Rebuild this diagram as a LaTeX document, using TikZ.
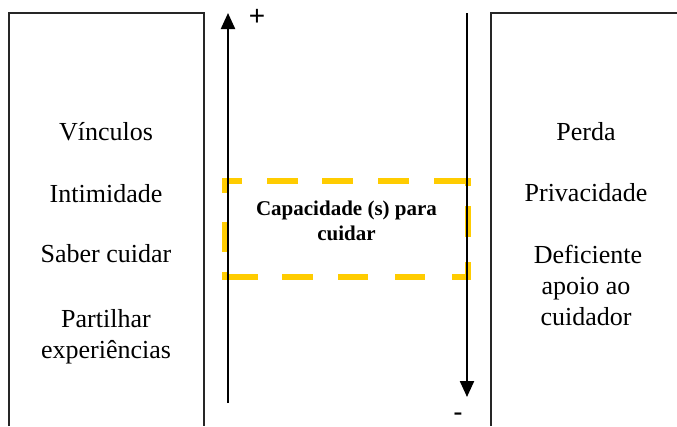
\documentclass[tikz,border=0pt]{standalone}
\usepackage{fontspec}
\setmainfont{Liberation Serif}
\newfontfamily\signfont{Liberation Sans}
\usetikzlibrary{arrows.meta}
\definecolor{dashyellow}{HTML}{FFCC00}
\begin{document}
\begin{tikzpicture}[x=1pt,y=-1pt,
  frame/.style={line width=1.6pt, black!85},
  axisline/.style={line width=2.2pt, -{Triangle[length=16pt,width=14pt]}},
  itemtext/.style={font=\fontsize{26}{31}\selectfont, anchor=base, inner sep=0pt},
  captext/.style={font=\fontsize{21}{25}\selectfont\bfseries, anchor=base, inner sep=0pt},
  signtext/.style={font=\signfont\fontsize{28}{30}\selectfont, inner sep=0pt},
  capedge/.style={draw=dashyellow, line width=6pt, line cap=butt}]
\useasboundingbox (0,0) rectangle (677,426);
% side frames
\draw[frame] (9,426) -- (9,13) -- (204,13) -- (204,426);
\draw[frame] (491,426) -- (491,13) -- (682,13);
% dashed highlight
\coordinate (capTL) at (222,181);
\coordinate (capTR) at (471,181);
\coordinate (capBL) at (222,277);
\coordinate (capBR) at (471,277);
\coordinate (capLT) at (225,178);
\coordinate (capLB) at (225,280);
\coordinate (capRT) at (468,178);
\coordinate (capRB) at (468,280);
\draw[capedge, dash pattern=on 20pt off 25pt on 31pt off 24pt on 31pt off 25pt on 31pt off 25pt on 31pt off 100pt] (capTL) -- (capTR);
\draw[capedge, dash pattern=on 8pt off 20pt on 31pt off 25pt on 20pt off 100pt] (capRT) -- (capRB);
\draw[capedge, dash pattern=on 15pt off 29pt on 30pt off 20pt on 10pt off 100pt] (capLT) -- (capLB);
\draw[capedge, dash pattern=on 0pt off 6pt on 30pt off 24pt on 31pt off 25pt on 30pt off 27pt on 30pt off 27pt on 19pt off 100pt] (capBL) -- (capBR);
% axes
\coordinate (upS) at (228,403);
\coordinate (upE) at (228,13);
\coordinate (dnS) at (467,13);
\coordinate (dnE) at (467,397);
\draw[axisline] (upS) -- (upE);
\draw[axisline] (dnS) -- (dnE);
\node[signtext] (plus) at (257,17) {+};
\node[signtext] (minus) at (458,417) {-};
% left items
\node[itemtext] (l1) at (106,140) {Vínculos};
\node[itemtext] (l2) at (106,202) {Intimidade};
\node[itemtext] (l3) at (106,262) {Saber cuidar};
\node[itemtext] (l4a) at (106,327) {Partilhar};
\node[itemtext] (l4b) at (106,358) {experiências};
% right items
\node[itemtext] (r1) at (586,140) {Perda};
\node[itemtext] (r2) at (586,201) {Privacidade};
\node[itemtext] (r3a) at (588,263) {Deficiente};
\node[itemtext] (r3b) at (586,294) {apoio ao};
\node[itemtext] (r3c) at (586,325) {cuidador};
% centre text
\node[captext] (c1) at (346.5,215) {Capacidade (s) para};
\node[captext] (c2) at (346.5,240) {cuidar};
\end{tikzpicture}
\end{document}
